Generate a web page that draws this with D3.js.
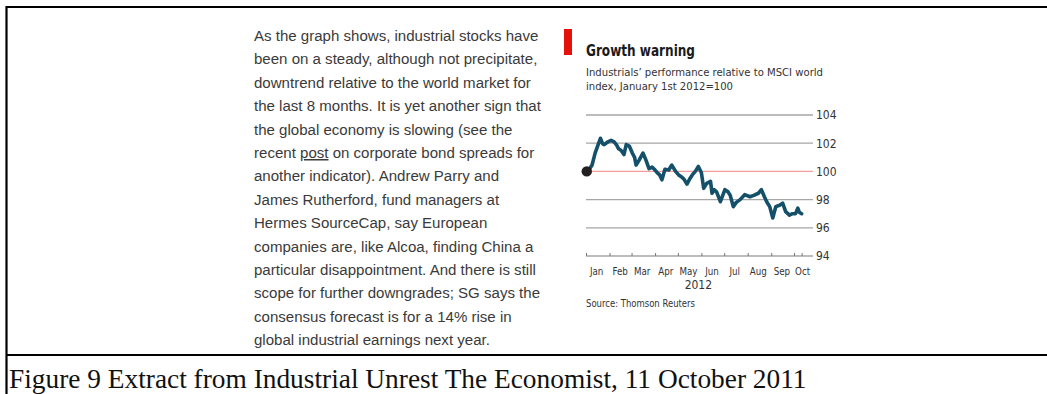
<!DOCTYPE html>
<html>
<head>
<meta charset="utf-8">
<script src="https://cdn.jsdelivr.net/npm/d3@7"></script>
<style>
  html, body { margin: 0; padding: 0; background: #fff; }
  svg { display: block; }
</style>
</head>
<body>
<svg id="page" width="1047" height="394"></svg>
<script>
// Industrials' performance relative to MSCI world index (1 Jan 2012 = 100)
const dates = [
  "2012-01-02","2012-01-06","2012-01-09","2012-01-13","2012-01-17","2012-01-20","2012-01-23","2012-01-25",
  "2012-01-30","2012-02-03","2012-02-07","2012-02-10","2012-02-13","2012-02-16","2012-02-20","2012-02-23",
  "2012-02-27","2012-03-02","2012-03-05","2012-03-07","2012-03-11","2012-03-16","2012-03-20","2012-03-24",
  "2012-03-28","2012-03-31","2012-04-04","2012-04-07","2012-04-10","2012-04-14","2012-04-19","2012-04-23",
  "2012-04-28","2012-05-02","2012-05-06","2012-05-09","2012-05-13","2012-05-17","2012-05-20","2012-05-24",
  "2012-05-28","2012-06-01","2012-06-04","2012-06-08","2012-06-13","2012-06-15","2012-06-18","2012-06-21",
  "2012-06-26","2012-07-02","2012-07-06","2012-07-09","2012-07-13","2012-07-17","2012-07-22","2012-07-28",
  "2012-08-04","2012-08-09","2012-08-15","2012-08-19","2012-08-23","2012-08-26","2012-08-30","2012-09-03",
  "2012-09-07","2012-09-12","2012-09-16","2012-09-20","2012-09-25","2012-09-29","2012-10-03","2012-10-06",
  "2012-10-08","2012-10-11"
];
const values = [
  100.0, 100.2, 100.45, 101.3, 101.9, 102.35, 101.95, 101.9,
  102.1, 102.2, 102.1, 101.9, 101.6, 101.5, 101.2, 101.9,
  101.8, 101.3, 101.0, 100.45, 100.8, 101.3, 100.8, 100.2,
  100.3, 100.15, 99.9, 99.75, 99.4, 100.15, 100.1, 100.45,
  100.0, 99.75, 99.6, 99.45, 99.1, 99.5, 99.75, 100.0,
  100.35, 99.9, 98.8, 99.15, 99.3, 98.45, 98.7, 98.55,
  97.85, 98.7, 98.55, 98.3, 97.5, 97.8, 98.0, 98.35,
  98.2, 98.3, 98.45, 98.7, 98.2, 97.85, 97.5, 96.7,
  97.5, 97.6, 97.75, 97.15, 96.9, 97.0, 97.0, 97.4,
  97.1, 97.0
];
const yTicks = [94, 96, 98, 100, 102, 104];
const monthLabels = ["Jan","Feb","Mar","Apr","May","Jun","Jul","Aug","Sep","Oct"];
const yearLabel = "2012";
const baseValue = 100;

const chartTitle = "Growth warning";
const chartSubtitle = ["Industrials\u2019 performance relative to MSCI world", "index, January 1st 2012=100"];
const sourceNote = "Source: Thomson Reuters";

const paragraph = [
  "As the graph shows, industrial stocks have",
  "been on a steady, although not precipitate,",
  "downtrend relative to the world market for",
  "the last 8 months. It is yet another sign that",
  "the global economy is slowing (see the",
  "recent |post| on corporate bond spreads for",
  "another indicator). Andrew Parry and",
  "James Rutherford, fund managers at",
  "Hermes SourceCap, say European",
  "companies are, like Alcoa, finding China a",
  "particular disappointment. And there is still",
  "scope for further downgrades; SG says the",
  "consensus forecast is for a 14% rise in",
  "global industrial earnings next year."
];
const caption = "Figure 9 Extract from Industrial Unrest The Economist, 11 October 2011";

const svg = d3.select("#page");
const parse = d3.timeParse("%Y-%m-%d");
const series = dates.map((d, i) => ({ date: parse(d), value: values[i] }));

// scale font size so the text spans the given width
function fitText(sel, width) {
  const w = sel.node().getComputedTextLength();
  const fs = parseFloat(sel.attr("font-size"));
  sel.attr("font-size", fs * width / w);
}
// keep font size, squeeze glyphs horizontally to the given width
function squeeze(sel, width) {
  sel.attr("textLength", width).attr("lengthAdjust", "spacingAndGlyphs");
}

// ---- frame (table cell borders) ----
const frame = svg.append("g").attr("stroke", "#000").attr("stroke-width", 2.2);
frame.append("line").attr("x1", 6).attr("x2", 1047).attr("y1", 7).attr("y2", 7);
frame.append("line").attr("x1", 6).attr("x2", 1047).attr("y1", 355).attr("y2", 355);
frame.append("line").attr("x1", 6.5).attr("x2", 6.5).attr("y1", 6).attr("y2", 394);

// ---- body text ----
const body = svg.append("g")
  .attr("font-family", "'Liberation Sans', Arial, sans-serif")
  .attr("font-size", 15.05)
  .attr("fill", "#3a3a3a");
paragraph.forEach((line, i) => {
  const t = body.append("text").attr("x", 254).attr("y", 41 + i * 23.4);
  line.split("|").forEach((part, j) => {
    const span = t.append("tspan").text(part);
    if (j % 2 === 1) span.attr("text-decoration", "underline");
  });
});

// ---- caption ----
const cap = svg.append("text")
  .attr("x", 9).attr("y", 388)
  .attr("font-family", "'Liberation Serif', 'Times New Roman', serif")
  .attr("font-size", 25)
  .attr("fill", "#111")
  .text(caption);
fitText(cap, 798);

// ---- chart ----
const chartFont = "'Liberation Sans Narrow', 'DejaVu Sans Condensed', 'Open Sans', sans-serif";
const plotLeft = 586, plotRight = 813, plotTop = 115, plotBottom = 256;

const x = d3.scaleTime()
  .domain([new Date(2012, 0, 1), new Date(2012, 9, 26)])
  .range([plotLeft, plotRight]);
const y = d3.scaleLinear()
  .domain([94, 104])
  .range([plotBottom, plotTop]);

svg.append("rect").attr("x", 564).attr("y", 29).attr("width", 8).attr("height", 26).attr("fill", "#e3120b");

const title = svg.append("text").attr("x", 586).attr("y", 56)
  .attr("font-family", chartFont).attr("font-weight", "bold")
  .attr("font-size", 15.5).attr("fill", "#1a1a1a").text(chartTitle);
squeeze(title, 109);

chartSubtitle.forEach((s, i) => {
  const t = svg.append("text").attr("x", 586).attr("y", 75.5 + i * 14)
    .attr("font-family", chartFont).attr("font-size", 11)
    .attr("fill", "#333").text(s);
  squeeze(t, i === 0 ? 237 : 147);
});

// horizontal gridlines
const grid = svg.append("g");
grid.selectAll("line").data(yTicks).join("line")
  .attr("x1", plotLeft).attr("x2", plotRight)
  .attr("y1", d => y(d)).attr("y2", d => y(d))
  .attr("stroke", d => d === baseValue ? "#f39c9c" : "#a6a6a6")
  .attr("stroke-width", 1.3);

// y labels on the right
const yAxis = d3.axisRight(y).tickValues(yTicks).tickSize(0).tickPadding(3);
svg.append("g")
  .attr("transform", `translate(${plotRight},0)`)
  .call(yAxis)
  .call(g => g.select(".domain").remove())
  .call(g => g.selectAll("text")
    .attr("font-family", chartFont).attr("font-size", 12).attr("fill", "#333"));

// x axis: month ticks + final data tick
const monthStarts = d3.timeMonth.range(new Date(2012, 0, 1), new Date(2012, 10, 1));
const lastDate = series[series.length - 1].date;
const xAxis = d3.axisTop(x)
  .tickValues(monthStarts.filter(d => d <= x.domain()[1]).concat([lastDate]))
  .tickSize(3)
  .tickFormat("");
svg.append("g")
  .attr("transform", `translate(0,${plotBottom})`)
  .call(xAxis)
  .call(g => g.select(".domain").remove())
  .call(g => g.selectAll(".tick line").attr("stroke", "#777").attr("stroke-width", 1));

// month labels centred mid-month
svg.append("g").selectAll("text").data(monthLabels).join("text")
  .attr("x", (d, i) => x(new Date(2012, i, 15)) + (i === 9 ? -2 : 0))
  .attr("y", 275)
  .attr("text-anchor", "middle")
  .attr("font-family", chartFont).attr("font-size", 11)
  .attr("fill", "#333")
  .text(d => d)
  .each(function () {
    const w = this.getComputedTextLength();
    d3.select(this).attr("textLength", w * 0.88).attr("lengthAdjust", "spacingAndGlyphs");
  });

svg.append("text")
  .attr("x", x(new Date(2012, 4, 28))).attr("y", 288.5)
  .attr("text-anchor", "middle")
  .attr("font-family", chartFont).attr("font-size", 12)
  .attr("fill", "#333").text(yearLabel);

const src = svg.append("text").attr("x", 586).attr("y", 306.5)
  .attr("font-family", chartFont).attr("font-size", 11)
  .attr("fill", "#333").text(sourceNote);
squeeze(src, 109);

// data line
const line = d3.line().x(d => x(d.date)).y(d => y(d.value));
svg.append("path").datum(series)
  .attr("d", line)
  .attr("fill", "none")
  .attr("stroke", "#14506a")
  .attr("stroke-width", 3.6)
  .attr("stroke-linejoin", "round")
  .attr("stroke-linecap", "round");

// starting point marker
svg.append("circle")
  .attr("cx", x(series[0].date)).attr("cy", y(series[0].value))
  .attr("r", 5.2).attr("fill", "#231f20");
</script>
</body>
</html>
